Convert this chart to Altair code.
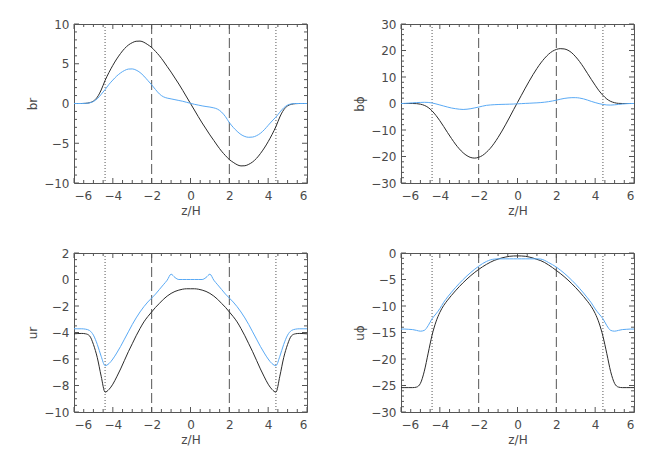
import altair as alt
import pandas as pd

# shared abscissa z/H
z = [round(-6 + 0.2 * i, 1) for i in range(61)]

br_black = [0, 0, 0, 0.02, 0.1, 0.3, 0.8, 1.7, 2.9, 3.9,
            4.8, 5.6, 6.3, 6.9, 7.35, 7.65, 7.83, 7.85, 7.7, 7.4,
            7.05, 6.55, 6.0, 5.35, 4.65, 3.95, 3.2, 2.45, 1.65, 0.82,
            0,
            -0.82, -1.65, -2.45, -3.2, -3.95, -4.65, -5.35, -6.0, -6.55, -7.05,
            -7.4, -7.7, -7.85, -7.83, -7.65, -7.35, -6.9, -6.3, -5.6, -4.8,
            -3.9, -2.9, -1.7, -0.8, -0.3, -0.1, -0.02, 0, 0, 0]
br_blue = [0, 0, 0, 0.02, 0.08, 0.25, 0.6, 1.15, 1.75, 2.4,
           2.95, 3.45, 3.85, 4.15, 4.33, 4.35, 4.2, 3.9, 3.45, 2.9,
           2.35, 1.75, 1.2, 0.85, 0.68, 0.58, 0.48, 0.38, 0.28, 0.15,
           0.02,
           -0.1, -0.2, -0.3, -0.38, -0.45, -0.55, -0.72, -1.08, -1.65, -2.4,
           -3.0, -3.5, -3.9, -4.15, -4.25, -4.22, -4.05, -3.75, -3.3, -2.75,
           -2.2, -1.7, -1.1, -0.55, -0.2, -0.05, 0, 0, 0, 0]

bphi_black = [0, 0, 0, 0, -0.05, -0.25, -0.7, -1.5, -2.8, -4.5,
              -6.5, -8.7, -11.0, -13.2, -15.3, -17.1, -18.6, -19.7, -20.4, -20.6,
              -20.3, -19.6, -18.4, -16.9, -15.0, -12.8, -10.4, -7.8, -5.1, -2.3,
              0.4,
              3.1, 5.8, 8.4, 10.9, 13.2, 15.3, 17.1, 18.6, 19.7, 20.4,
              20.7, 20.6, 20.1, 19.1, 17.6, 15.8, 13.7, 11.4, 9.1, 6.9,
              4.8, 3.1, 1.7, 0.8, 0.3, 0.05, 0, 0, 0, 0]
bphi_blue = [0, 0.05, 0.15, 0.25, 0.35, 0.4, 0.45, 0.4, 0.2, -0.15,
             -0.55, -0.95, -1.35, -1.7, -1.95, -2.15, -2.25, -2.15, -1.95, -1.65,
             -1.35, -1.0, -0.7, -0.55, -0.45, -0.38, -0.33, -0.3, -0.25, -0.2,
             -0.12,
             -0.05, 0.03, 0.1, 0.18, 0.25, 0.35, 0.5, 0.7, 0.95, 1.25,
             1.6, 1.9, 2.1, 2.2, 2.2, 2.05, 1.75, 1.3, 0.8, 0.35,
             -0.05, -0.35, -0.55, -0.6, -0.5, -0.35, -0.2, -0.08, 0, 0]

ur_black = [-4.1, -4.08, -4.07, -4.1, -4.25, -4.9, -5.9, -7.3, -8.5, -8.3,
            -7.9, -7.35, -6.75, -6.1, -5.45, -4.85, -4.25, -3.7, -3.2, -2.8,
            -2.45, -2.1, -1.8, -1.5, -1.25, -1.05, -0.9, -0.8, -0.73, -0.7,
            -0.7,
            -0.7, -0.73, -0.8, -0.9, -1.05, -1.25, -1.5, -1.8, -2.1, -2.45,
            -2.8, -3.2, -3.7, -4.25, -4.85, -5.45, -6.1, -6.75, -7.35, -7.9,
            -8.3, -8.5, -7.3, -5.9, -4.9, -4.25, -4.1, -4.07, -4.08, -4.1]
ur_blue = [-3.72, -3.72, -3.72, -3.75, -3.85, -4.2, -4.9, -5.8, -6.5, -6.35,
           -6.0, -5.55, -5.05, -4.5, -3.95, -3.4, -2.9, -2.45, -2.05, -1.7,
           -1.4, -1.1, -0.75, -0.4, -0.05, 0.4, 0.15, 0.0, 0.0, 0.0,
           0.0,
           0.0, 0.0, 0.0, 0.15, 0.4, -0.05, -0.4, -0.75, -1.1, -1.4,
           -1.7, -2.05, -2.45, -2.9, -3.4, -3.95, -4.5, -5.05, -5.55, -6.0,
           -6.35, -6.5, -5.8, -4.9, -4.2, -3.85, -3.75, -3.72, -3.72, -3.72]

uphi_black = [-25.4, -25.4, -25.4, -25.4, -25.3, -24.6, -22.3, -18.9, -15.5, -13.0,
              -11.2, -9.9, -8.9, -8.0, -7.15, -6.35, -5.6, -4.9, -4.25, -3.65,
              -3.1, -2.6, -2.15, -1.75, -1.4, -1.15, -0.92, -0.75, -0.62, -0.56,
              -0.55,
              -0.56, -0.62, -0.76, -0.95, -1.2, -1.45, -1.8, -2.25, -2.75, -3.3,
              -3.85, -4.45, -5.1, -5.8, -6.55, -7.35, -8.2, -9.1, -10.1, -11.4,
              -13.2, -15.7, -19.0, -22.4, -24.6, -25.3, -25.4, -25.4, -25.4, -25.4]
uphi_blue = [-14.35, -14.35, -14.4, -14.45, -14.6, -14.75, -14.6, -13.7, -12.4, -11.5,
             -10.5, -9.3, -8.3, -7.4, -6.55, -5.75, -5.0, -4.3, -3.65, -3.05,
             -2.5, -2.0, -1.6, -1.3, -1.15, -1.1, -1.1, -1.1, -1.1, -1.1,
             -1.1,
             -1.1, -1.1, -1.1, -1.1, -1.1, -1.15, -1.4, -1.8, -2.2, -2.65,
             -3.2, -3.8, -4.45, -5.15, -5.9, -6.7, -7.55, -8.45, -9.4, -10.55,
             -11.5, -12.4, -13.7, -14.6, -14.75, -14.6, -14.45, -14.4, -14.35, -14.35]

x_ticks = [-6, -4, -2, 0, 2, 4, 6]
dotted_z = [-4.4, 4.4]
dashed_z = [-2, 2]

W, H = 233, 159
FONT = "DejaVu Sans"
AXC = "#555555"
TXT = "#4a4a4a"
BLACK = "#2b2b2b"
BLUE = "#5aaaf5"
MAJ, MIN = 5, 3


def minor_between(major, n):
    out = []
    for a, b in zip(major[:-1], major[1:]):
        for k in range(1, n):
            out.append(a + (b - a) * k / n)
    return out


def panel(black, blue, title, y_ticks, ysub):
    ymin, ymax = y_ticks[0], y_ticks[-1]
    xs = alt.Scale(domain=[-6, 6], nice=False, zero=False)
    ys = alt.Scale(domain=[ymin, ymax], nice=False, zero=False)
    xax = alt.Axis(values=x_ticks, title="z/H", labelPadding=7,
                   titlePadding=4, format="d")
    yax = alt.Axis(values=y_ticks, title=title, labelPadding=5,
                   titlePadding=5, minExtent=30, maxExtent=30, format="d")
    df = pd.DataFrame({"z": z * 2, "v": black + blue,
                       "s": ["a"] * len(z) + ["b"] * len(z)})
    lines = alt.Chart(df).mark_line(strokeWidth=1, interpolate="monotone").encode(
        x=alt.X("z:Q", scale=xs, axis=xax),
        y=alt.Y("v:Q", scale=ys, axis=yax),
        color=alt.Color("s:N", scale=alt.Scale(domain=["a", "b"], range=[BLACK, BLUE]),
                        legend=None),
        detail="s:N",
    )
    dots = alt.Chart(pd.DataFrame({"t": dotted_z})).mark_rule(
        color=AXC, strokeWidth=1, strokeDash=[1, 2]).encode(
        x=alt.X("t:Q", scale=xs, axis=xax))
    dashes = alt.Chart(pd.DataFrame({"t": dashed_z})).mark_rule(
        color=AXC, strokeWidth=1, strokeDash=[10, 4]).encode(
        x=alt.X("t:Q", scale=xs, axis=xax))

    xmaj = pd.DataFrame({"t": x_ticks})
    xmin = pd.DataFrame({"t": minor_between(x_ticks, 4)})
    ymaj = pd.DataFrame({"t": y_ticks})
    ymn = pd.DataFrame({"t": minor_between(y_ticks, ysub)})

    def xt(d, ln, top):
        return alt.Chart(d).mark_rule(color=AXC, strokeWidth=1).encode(
            x=alt.X("t:Q", scale=xs, axis=xax),
            y=alt.value(0 if top else H), y2=alt.value(ln if top else H - ln))

    def yt(d, ln, right):
        return alt.Chart(d).mark_rule(color=AXC, strokeWidth=1).encode(
            y=alt.Y("t:Q", scale=ys, axis=yax),
            x=alt.value(W if right else 0), x2=alt.value(W - ln if right else ln))

    return alt.layer(
        dots, dashes,
        xt(xmaj, MAJ, False), xt(xmaj, MAJ, True), xt(xmin, MIN, False), xt(xmin, MIN, True),
        yt(ymaj, MAJ, False), yt(ymaj, MAJ, True), yt(ymn, MIN, False), yt(ymn, MIN, True),
        lines,
    ).properties(width=W, height=H)


p1 = panel(br_black, br_blue, "br", [-10, -5, 0, 5, 10], 5)
p2 = panel(bphi_black, bphi_blue, "b\u03d5", [-30, -20, -10, 0, 10, 20, 30], 5)
p3 = panel(ur_black, ur_blue, "ur", [-10, -8, -6, -4, -2, 0, 2], 4)
p4 = panel(uphi_black, uphi_blue, "u\u03d5", [-30, -25, -20, -15, -10, -5, 0], 5)

chart = alt.concat(
    p1, p2, p3, p4, columns=2, bounds="flush",
    spacing={"row": 70, "column": 94},
).properties(
    padding={"left": 17, "top": 9, "right": 5, "bottom": 5},
    background="white",
).configure_view(
    stroke=AXC, strokeWidth=1
).configure_axis(
    domain=False, ticks=False, tickSize=0, grid=False,
    labelFont=FONT, labelFontSize=12, labelColor=TXT,
    titleFont=FONT, titleFontSize=12, titleFontWeight="normal", titleColor=TXT,
)

chart.save("out.html", embed_options={"renderer": "svg", "actions": False})
